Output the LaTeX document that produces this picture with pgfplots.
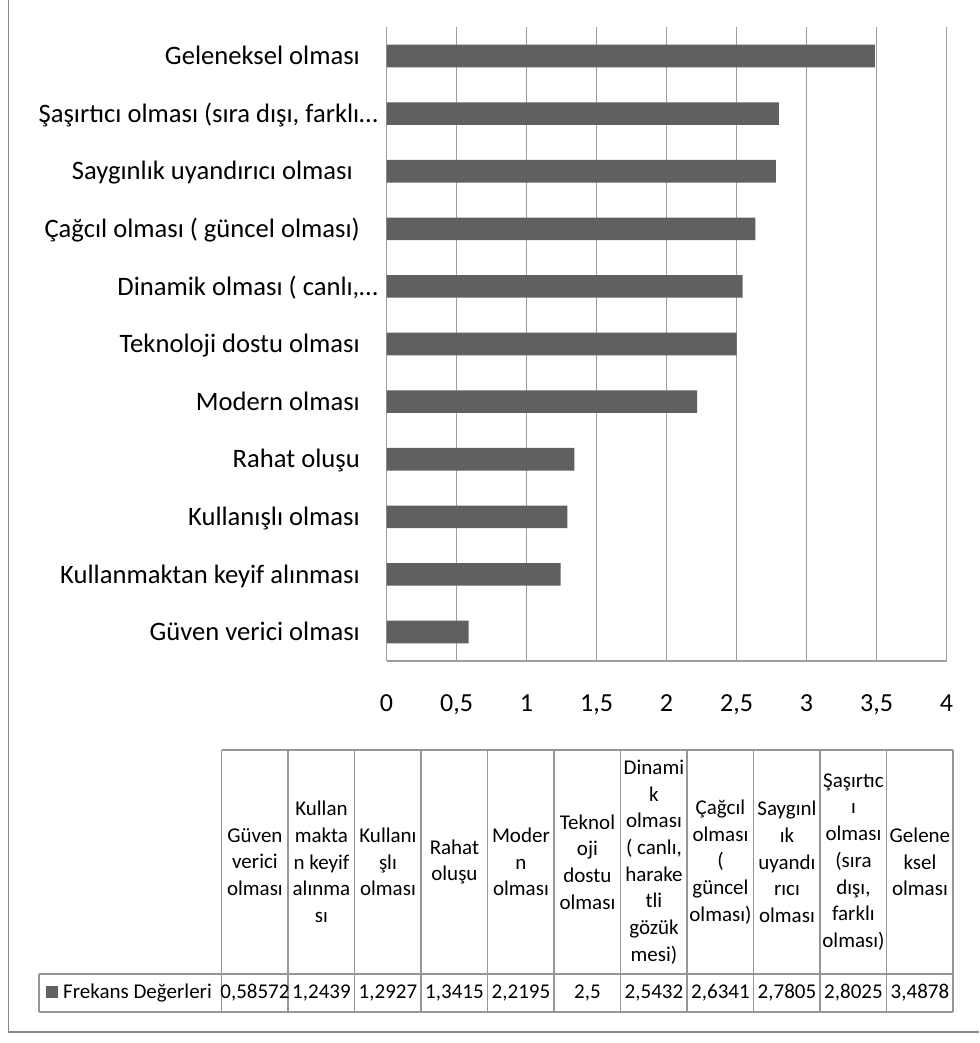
\documentclass[border=0pt]{standalone}
\usepackage{fontspec}
\setmainfont{Carlito}
\usepackage{pgfplots}
\pgfplotsset{compat=1.18}
\usepackage{pgfplotstable}

\definecolor{barfill}{RGB}{96,96,96}
\definecolor{gridc}{RGB}{158,158,158}
\definecolor{framec}{RGB}{134,134,134}
\definecolor{tablec}{RGB}{150,150,150}

% Frekans değerleri (0 = en alttaki kategori)
\pgfplotstableread{
idx value
0  0.58572
1  1.2439
2  1.2927
3  1.3415
4  2.2195
5  2.5
6  2.5432
7  2.6341
8  2.7805
9  2.8025
10 3.4878
}\freqtable

\newcommand{\catfont}{\fontsize{26.6}{32}\selectfont}
\newcommand{\numfont}{\fontsize{26}{31}\selectfont}
\newcommand{\tabfont}{\fontsize{21}{26.7}\selectfont}

\begin{document}
\begin{tikzpicture}[x=1pt,y=1pt]
\path[use as bounding box] (0,0) rectangle (979,-1043);

% dış çerçeve
\draw[framec, line width=1.5pt] (8.3,0) -- (8.3,-1032) -- (979,-1032);

\begin{axis}[
  at={(386.5pt,-660.8pt)}, anchor=south west,
  scale only axis, width=560pt, height=633.6pt,
  xmin=0, xmax=4, ymin=-0.5, ymax=10.5,
  axis x line=bottom, axis y line=left,
  axis line style={draw=gridc, line width=1.5pt, -},
  xmajorgrids, grid style={draw=gridc, line width=1.5pt},
  major tick length=0pt, tick style={draw=none},
  xtick={0,0.5,1,1.5,2,2.5,3,3.5,4},
  xticklabels={0,{0,5},1,{1,5},2,{2,5},3,{3,5},4},
  ytick={0,...,10},
  yticklabels={
    Güven verici olması,
    Kullanmaktan keyif alınması,
    Kullanışlı olması,
    Rahat oluşu,
    Modern olması,
    Teknoloji dostu olması,
    {Dinamik olması ( canlı,…\kern-18pt},
    {Çağcıl olması ( güncel olması)},
    {Saygınlık uyandırıcı olması\kern7pt},
    {Şaşırtıcı olması (sıra dışı, farklı…\kern-18pt},
    Geleneksel olması},
  xticklabel style={font=\numfont, anchor=base, inner sep=0pt, yshift=-51pt},
  yticklabel style={font=\catfont, anchor=base east, inner sep=0pt, xshift=-26.5pt, yshift=-8.6pt},
]
\addplot[xbar, bar width=22.6pt, fill=barfill, draw=none] table[x=value, y=idx] {\freqtable};
\end{axis}

% veri tablosu
\begin{scope}[tablec, line width=1.5pt]
  \draw (221.7,-750) -- (953.2,-750);
  \draw (39,-974) -- (953.2,-974);
  \draw (39,-1012) -- (953.2,-1012);
  \draw (39,-974) -- (39,-1012);
  \foreach \i in {0,...,11} {
    \draw ({221.7+66.5*\i},-750) -- ({221.7+66.5*\i},-1012);
  }
\end{scope}

\foreach \i/\txt in {
  0/{Güven\\verici\\olması},
  1/{Kullan\\makta\\n keyif\\alınma\\sı},
  2/{Kullanı\\şlı\\olması},
  3/{Rahat\\oluşu},
  4/{Moder\\n\\olması},
  5/{Teknol\\oji\\dostu\\olması},
  6/{Dinami\\k\\olması\\( canlı,\\harake\\tli\\gözük\\mesi)},
  7/{Çağcıl\\olması\\(\\güncel\\olması)},
  8/{Saygınl\\ık\\uyandı\\rıcı\\olması},
  9/{Şaşırtıc\\ı\\olması\\(sıra\\dışı,\\farklı\\olması)},
  10/{Gelene\\ksel\\olması}} {
  \node[align=center, font=\tabfont, inner sep=0pt] at ({221.7+66.5*\i+33.25},-862) {\txt};
}

\foreach \i/\v in {0/{0,58572},1/{1,2439},2/{1,2927},3/{1,3415},4/{2,2195},5/{2,5},
                   6/{2,5432},7/{2,6341},8/{2,7805},9/{2,8025},10/{3,4878}} {
  \node[font=\tabfont, anchor=base, inner sep=0pt] at ({221.7+66.5*\i+33.25},-998) {\v};
}

% lejant
\fill[barfill] (46,-986) rectangle (58,-998);
\node[font=\tabfont, anchor=base west, inner sep=0pt] at (63,-998) {Frekans Değerleri};
\end{tikzpicture}
\end{document}
